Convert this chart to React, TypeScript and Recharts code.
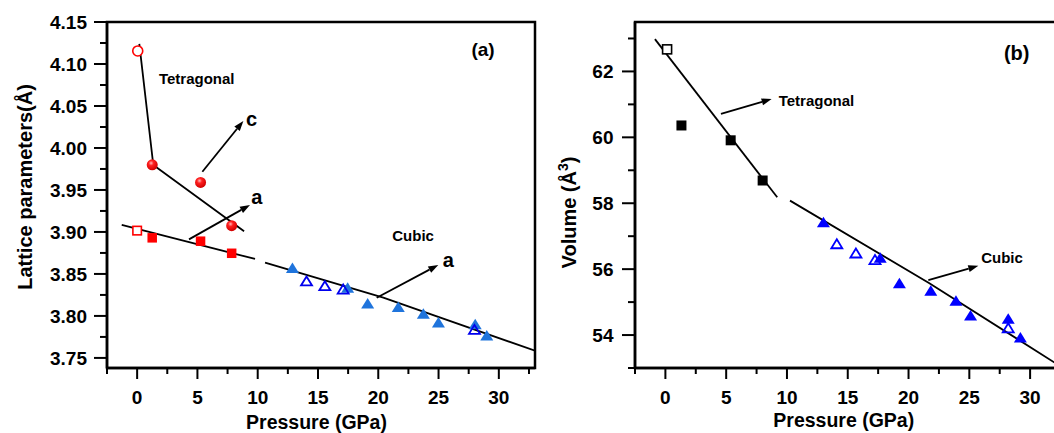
import React from 'react';
import {
  ComposedChart, XAxis, YAxis, Scatter, Line, ReferenceLine, ReferenceDot, ReferenceArea,
} from 'recharts';

// ---------------- Panel (a): lattice parameters ----------------
const aOpenCircle = [{ x: 0.05, y: 4.1155 }];
const aFilledCircle = [{ x: 1.25, y: 3.98 }, { x: 5.26, y: 3.959 }, { x: 7.84, y: 3.9075 }];
const aOpenSquare = [{ x: 0.0, y: 3.9016 }];
const aFilledSquare = [{ x: 1.25, y: 3.893 }, { x: 5.26, y: 3.889 }, { x: 7.84, y: 3.8746 }];
const aFilledTri = [
  { x: 12.88, y: 3.8575 }, { x: 17.46, y: 3.834 }, { x: 19.12, y: 3.815 }, { x: 21.66, y: 3.811 },
  { x: 23.74, y: 3.803 }, { x: 24.99, y: 3.7925 }, { x: 28.04, y: 3.7905 }, { x: 29.0, y: 3.777 },
];
const aOpenTri = [{ x: 14.05, y: 3.8417 }, { x: 15.57, y: 3.836 }, { x: 17.09, y: 3.832 }, { x: 27.98, y: 3.784 }];
const aFitC = [{ x: 0.18, y: 4.1239 }, { x: 1.34, y: 3.9797 }, { x: 8.87, y: 3.9008 }];
const aFitA = [{ x: -1.28, y: 3.9083 }, { x: 9.78, y: 3.8678 }];
const aFitCubic = [{ x: 10.61, y: 3.8634 }, { x: 20.42, y: 3.8217 }, { x: 33.0, y: 3.7586 }];
const aArrows = [
  { x1: 5.41, y1: 3.9717, x2: 8.81, y2: 4.0321 },
  { x1: 4.3, y1: 3.8912, x2: 9.36, y2: 3.9321 },
  { x1: 19.87, y1: 3.8217, x2: 24.98, y2: 3.8607 },
];
const aNotes = [
  { x: 4.94, y: 4.083, text: 'Tetragonal', size: 15 },
  { x: 9.5, y: 4.035, text: 'c', size: 20 },
  { x: 9.92, y: 3.942, text: 'a', size: 20 },
  { x: 22.89, y: 3.8955, text: 'Cubic', size: 15 },
  { x: 25.81, y: 3.867, text: 'a', size: 20 },
  { x: 28.69, y: 4.1167, text: '(a)', size: 19 },
];
const aXMajor = [0, 5, 10, 15, 20, 25, 30];
const aXMinor = [-2.5, 2.5, 7.5, 12.5, 17.5, 22.5, 27.5, 32.5];
const aYMajor = [3.75, 3.8, 3.85, 3.9, 3.95, 4.0, 4.05, 4.1, 4.15];
const aYMinor = [3.775, 3.825, 3.875, 3.925, 3.975, 4.025, 4.075, 4.125];

// ---------------- Panel (b): volume ----------------
const bOpenSquare = [{ x: 0.14, y: 62.67 }];
const bFilledSquare = [{ x: 1.32, y: 60.36 }, { x: 5.37, y: 59.91 }, { x: 8.0, y: 58.69 }];
const bFilledTri = [
  { x: 13.0, y: 57.43 }, { x: 17.67, y: 56.35 }, { x: 19.25, y: 55.58 }, { x: 21.83, y: 55.35 },
  { x: 23.9, y: 55.05 }, { x: 25.1, y: 54.6 }, { x: 28.2, y: 54.5 }, { x: 29.2, y: 53.93 },
];
const bOpenTri = [{ x: 14.1, y: 56.77 }, { x: 15.67, y: 56.49 }, { x: 17.24, y: 56.29 }, { x: 28.2, y: 54.22 }];
const bFitTet = [{ x: -0.86, y: 62.98 }, { x: 9.2, y: 58.18 }];
const bFitCubic = [{ x: 10.25, y: 58.08 }, { x: 21.68, y: 55.58 }, { x: 32.5, y: 53.05 }];
const bArrows = [
  { x1: 4.57, y1: 60.71, x2: 8.74, y2: 61.16 },
  { x1: 21.63, y1: 55.67, x2: 25.74, y2: 56.1 },
];
const bNotes = [
  { x: 12.43, y: 61.13, text: 'Tetragonal', size: 15 },
  { x: 27.69, y: 56.34, text: 'Cubic', size: 15 },
  { x: 28.9, y: 62.56, text: '(b)', size: 20 },
];
const bXMajor = [0, 5, 10, 15, 20, 25, 30];
const bXMinor = [-2.5, 2.5, 7.5, 12.5, 17.5, 22.5, 27.5];
const bYMajor = [54, 56, 58, 60, 62];
const bYMinor = [53, 55, 57, 59, 61, 63];

const FONT = '"Liberation Sans", Arial, sans-serif';
const TICK_FS = 19;

const isIn = (list: number[], v: number) => list.some((m) => Math.abs(m - v) < 1e-6);

const makeXTick = (majors: number[]) => (props: any) => {
  const { x, y, payload } = props;
  const v = payload.value;
  const major = isIn(majors, v);
  return (
    <g>
      <line x1={x} x2={x} y1={y} y2={y + (major ? 11 : 6)} stroke="#000" strokeWidth={2} />
      {major && (
        <text x={x} y={y + 36} textAnchor="middle" fontSize={TICK_FS} fontWeight="bold" fontFamily={FONT} fill="#000">
          {String(v)}
        </text>
      )}
    </g>
  );
};

const makeYTick = (majors: number[], digits: number, gap: number) => (props: any) => {
  const { x, y, payload } = props;
  const v = payload.value;
  const major = isIn(majors, v);
  return (
    <g>
      <line x1={x} x2={x - (major ? 13 : 7)} y1={y} y2={y} stroke="#000" strokeWidth={2} />
      {major && (
        <text x={x - gap} y={y + 6.8} textAnchor="end" fontSize={TICK_FS} fontWeight="bold" fontFamily={FONT} fill="#000">
          {v.toFixed(digits)}
        </text>
      )}
    </g>
  );
};

const ArrowShape = (p: any) => {
  const { x1, y1, x2, y2 } = p;
  const ang = Math.atan2(y2 - y1, x2 - x1);
  const L = 10;
  const W = 3.5;
  const bx = x2 - L * Math.cos(ang);
  const by = y2 - L * Math.sin(ang);
  const px = -Math.sin(ang) * W;
  const py = Math.cos(ang) * W;
  return (
    <g>
      <line x1={x1} y1={y1} x2={bx} y2={by} stroke="#000" strokeWidth={1.8} />
      <polygon points={`${x2},${y2} ${bx + px},${by + py} ${bx - px},${by - py}`} fill="#000" />
    </g>
  );
};

const noteShape = (text: string, size: number) => (p: any) => (
  <text x={p.cx} y={p.cy} textAnchor="middle" dominantBaseline="central" fontSize={size} fontWeight="bold"
    fontFamily={FONT} fill="#000">
    {text}
  </text>
);

const filledSquare = (s: number, color: string) => (p: any) => (
  <rect x={p.cx - s / 2} y={p.cy - s / 2} width={s} height={s} fill={color} />
);
const openSquare = (s: number, color: string) => (p: any) => (
  <rect x={p.cx - s / 2} y={p.cy - s / 2} width={s} height={s} fill="#fff" stroke={color} strokeWidth={1.6} />
);
const sphere = (r: number) => (p: any) => <circle cx={p.cx} cy={p.cy} r={r} fill="url(#redSphere)" />;
const openCircle = (r: number, color: string) => (p: any) => (
  <circle cx={p.cx} cy={p.cy} r={r} fill="#fff" stroke={color} strokeWidth={1.6} />
);
const triPoints = (cx: number, cy: number, w: number, h: number) =>
  `${cx},${cy - h / 2} ${cx + w / 2},${cy + h / 2} ${cx - w / 2},${cy + h / 2}`;
const filledTri = (w: number, h: number, color: string) => (p: any) => (
  <polygon points={triPoints(p.cx, p.cy, w, h)} fill={color} />
);
const openTri = (w: number, h: number, color: string) => (p: any) => (
  <polygon points={triPoints(p.cx, p.cy, w, h)} fill="#fff" fillOpacity={0} stroke={color} strokeWidth={1.8} />
);

const xLabel = (dx: number, baseline: number) => (props: any) => {
  const vb = props.viewBox;
  return (
    <text x={vb.x + vb.width / 2 + dx} y={baseline} textAnchor="middle" fontSize={19.5} fontWeight="bold"
      fontFamily={FONT} fill="#000">
      Pressure (GPa)
    </text>
  );
};

const PanelA = () => (
  <ComposedChart width={540} height={433} margin={{ top: 22, right: 5, bottom: 0, left: 0 }}>
    <XAxis type="number" dataKey="x" domain={[-2.5, 33]} allowDataOverflow ticks={[...aXMinor, ...aXMajor].sort((a, b) => a - b)}
      interval={0} tickSize={0} tickMargin={0} tickLine={false} height={65}
      axisLine={{ stroke: '#000', strokeWidth: 2.5 }} tick={makeXTick(aXMajor)}
      label={{ content: xLabel(-4.5, 429) }} />
    <YAxis type="number" dataKey="y" domain={[3.738, 4.15]} allowDataOverflow
      ticks={[...aYMinor, ...aYMajor].sort((a, b) => a - b)} interval={0} tickSize={0} tickMargin={0}
      tickLine={false} width={107} axisLine={{ stroke: '#000', strokeWidth: 2.5 }} tick={makeYTick(aYMajor, 2, 20)}
      label={{
        content: () => (
          <text x={32} y={187} transform="rotate(-90, 32, 187)" textAnchor="middle" fontSize={20}
            fontWeight="bold" fontFamily={FONT} fill="#000">
            Lattice parameters(Å)
          </text>
        ),
      }} />
    <ReferenceArea x1={-2.5} x2={33} y1={3.738} y2={4.15} fill="none" fillOpacity={0} stroke="#000" strokeWidth={2.5} />
    <Scatter data={aOpenCircle} dataKey="y" isAnimationActive={false} shape={openCircle(5, '#ff0000')} />
    <Scatter data={aFilledCircle} dataKey="y" isAnimationActive={false} shape={sphere(5.5)} />
    <Scatter data={aOpenSquare} dataKey="y" isAnimationActive={false} shape={openSquare(8.5, '#ff0000')} />
    <Scatter data={aFilledSquare} dataKey="y" isAnimationActive={false} shape={filledSquare(9.5, '#ff0000')} />
    <Scatter data={aFilledTri} dataKey="y" isAnimationActive={false} shape={filledTri(13, 10.5, '#1f74dc')} />
    <Scatter data={aOpenTri} dataKey="y" isAnimationActive={false} shape={openTri(11, 9, '#0000ee')} />
    <Line data={aFitC} dataKey="y" type="linear" dot={false} stroke="#000" strokeWidth={1.8} isAnimationActive={false} />
    <Line data={aFitA} dataKey="y" type="linear" dot={false} stroke="#000" strokeWidth={1.8} isAnimationActive={false} />
    <Line data={aFitCubic} dataKey="y" type="linear" dot={false} stroke="#000" strokeWidth={1.8} isAnimationActive={false} />
    {aArrows.map((a, i) => (
      <ReferenceLine key={`aa${i}`} segment={[{ x: a.x1, y: a.y1 }, { x: a.x2, y: a.y2 }]} shape={ArrowShape} />
    ))}
    {aNotes.map((n, i) => (
      <ReferenceDot key={`an${i}`} x={n.x} y={n.y} r={0} shape={noteShape(n.text, n.size)} />
    ))}
  </ComposedChart>
);

const PanelB = () => (
  <ComposedChart width={540} height={433} margin={{ top: 22, right: 19.5, bottom: 0, left: 0 }}>
    <XAxis type="number" dataKey="x" domain={[-2.5, 32.5]} allowDataOverflow ticks={[...bXMinor, ...bXMajor].sort((a, b) => a - b)}
      interval={0} tickSize={0} tickMargin={0} tickLine={false} height={65}
      axisLine={{ stroke: '#000', strokeWidth: 2.5 }} tick={makeXTick(bXMajor)}
      label={{ content: xLabel(-4, 427) }} />
    <YAxis type="number" dataKey="y" domain={[53, 63.5]} allowDataOverflow
      ticks={[...bYMinor, ...bYMajor].sort((a, b) => a - b)} interval={0} tickSize={0} tickMargin={0}
      tickLine={false} width={95} axisLine={{ stroke: '#000', strokeWidth: 2.5 }} tick={makeYTick(bYMajor, 0, 21.5)}
      label={{
        content: () => (
          <text x={36} y={212.5} transform="rotate(-90, 36, 212.5)" textAnchor="middle" fontSize={20}
            fontWeight="bold" fontFamily={FONT} fill="#000">
            Volume (Å<tspan baselineShift="super" fontSize={14}>3</tspan>)
          </text>
        ),
      }} />
    <ReferenceArea x1={-2.5} x2={32.5} y1={53} y2={63.5} fill="none" fillOpacity={0} stroke="#000" strokeWidth={2.5} />
    <Scatter data={bOpenSquare} dataKey="y" isAnimationActive={false} shape={openSquare(9, '#000')} />
    <Scatter data={bFilledSquare} dataKey="y" isAnimationActive={false} shape={filledSquare(10, '#000')} />
    <Scatter data={bFilledTri} dataKey="y" isAnimationActive={false} shape={filledTri(13, 10.5, '#0000ff')} />
    <Scatter data={bOpenTri} dataKey="y" isAnimationActive={false} shape={openTri(11, 9, '#0000ff')} />
    <Line data={bFitTet} dataKey="y" type="linear" dot={false} stroke="#000" strokeWidth={1.8} isAnimationActive={false} />
    <Line data={bFitCubic} dataKey="y" type="linear" dot={false} stroke="#000" strokeWidth={1.8} isAnimationActive={false} />
    {bArrows.map((a, i) => (
      <ReferenceLine key={`ba${i}`} segment={[{ x: a.x1, y: a.y1 }, { x: a.x2, y: a.y2 }]} shape={ArrowShape} />
    ))}
    {bNotes.map((n, i) => (
      <ReferenceDot key={`bn${i}`} x={n.x} y={n.y} r={0} shape={noteShape(n.text, n.size)} />
    ))}
  </ComposedChart>
);

export default function App() {
  return (
    <div style={{ position: 'fixed', left: 0, top: 0, width: 1054, height: 433, overflow: 'hidden', background: '#fff', fontFamily: FONT }}>
      <svg width={0} height={0} style={{ position: 'absolute' }}>
        <defs>
          <radialGradient id="redSphere" cx="40%" cy="35%" r="65%">
            <stop offset="0%" stopColor="#ffb8b8" />
            <stop offset="35%" stopColor="#ff2020" />
            <stop offset="100%" stopColor="#d00000" />
          </radialGradient>
        </defs>
      </svg>
      <div style={{ position: 'absolute', left: 0, top: 0 }}>
        <PanelA />
      </div>
      <div style={{ position: 'absolute', left: 540, top: 0 }}>
        <PanelB />
      </div>
    </div>
  );
}
